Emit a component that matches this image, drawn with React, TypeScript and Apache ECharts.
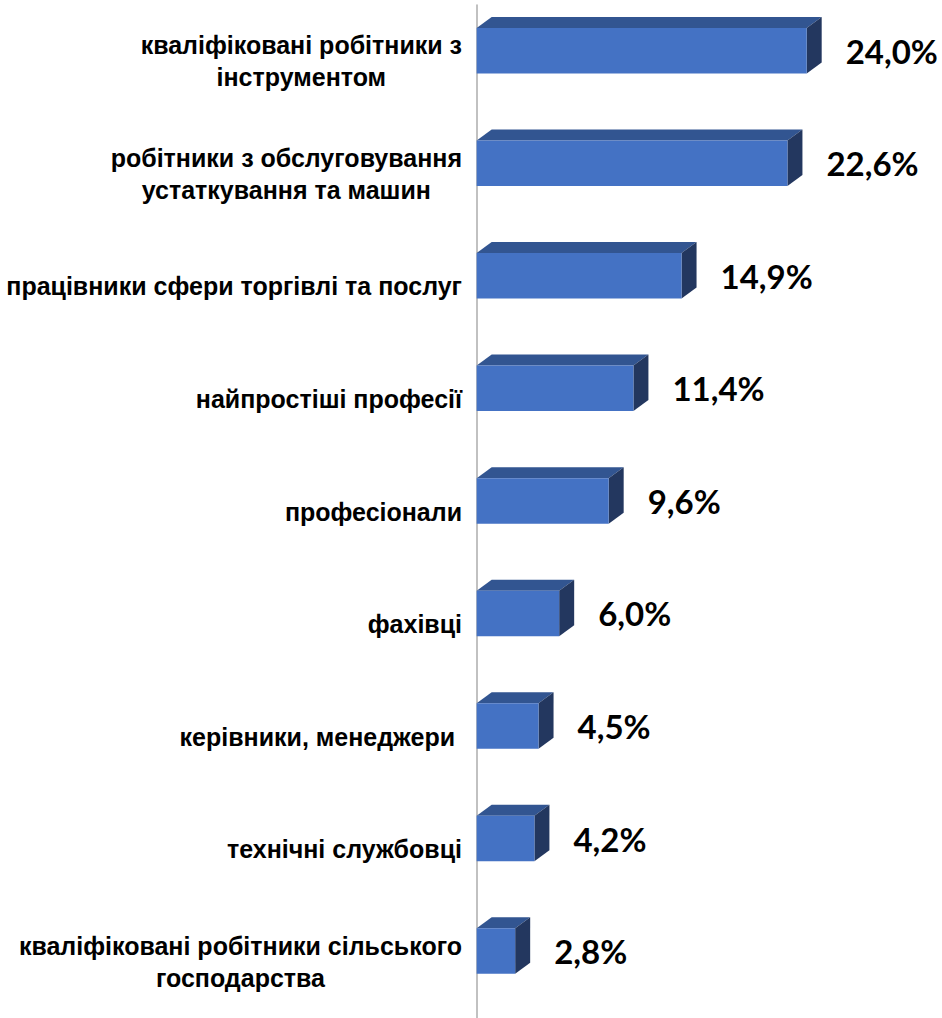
import React, { useEffect, useRef } from "react";
import * as echarts from "echarts";

const categories: string[] = [
  "кваліфіковані робітники з\nінструментом",
  "робітники з обслуговування\nустаткування та машин",
  "працівники сфери торгівлі та послуг",
  "найпростіші професії",
  "професіонали",
  "фахівці",
  "керівники, менеджери ",
  "технічні службовці",
  "кваліфіковані робітники сільського\nгосподарства",
];

const values: number[] = [24.0, 22.6, 14.9, 11.4, 9.6, 6.0, 4.5, 4.2, 2.8];

const FRONT = "#4472C4";
const TOP = "#325591";
const SIDE = "#23375F";

export default function App() {
  const ref = useRef<HTMLDivElement>(null);

  useEffect(() => {
    if (!ref.current) return;
    const chart = echarts.init(ref.current, undefined, { renderer: "svg" });
    const depthX = 15;
    const depthY = 11;
    const barH = 45.5;
    const shiftUp = 10.6;
    const labelGap = 39;

    chart.setOption({
      animation: false,
      backgroundColor: "#ffffff",
      grid: { left: 468, right: 0, top: 5, height: 1015 },
      xAxis: {
        type: "value",
        min: -0.63,
        max: 33.84,
        show: false,
        splitLine: { show: false },
      },
      yAxis: {
        type: "category",
        data: categories,
        inverse: true,
        axisLine: { show: true, lineStyle: { color: "#ADADAD", width: 1.5 } },
        axisTick: { show: false },
        splitLine: { show: false },
        axisLabel: {
          margin: 6,
          formatter: (v: string) =>
            v
              .split("\n")
              .map((l) => `{c|${l}}`)
              .join("\n"),
          rich: {
            c: {
              align: "center",
              fontSize: 25,
              fontWeight: "bold",
              fontFamily: "Liberation Sans, Arial, sans-serif",
              lineHeight: 32,
              color: "#000000",
            },
          },
        },
      },
      series: [
        {
          type: "custom",
          encode: { x: 0, y: 1 },
          data: values.map((v, i) => [v, i]),
          renderItem: (params: any, api: any) => {
            const v = api.value(0);
            const idx = api.value(1);
            const p0 = api.coord([0, idx]);
            const p1 = api.coord([v, idx]);
            const x0 = p0[0];
            const x1 = p1[0];
            const yc = p0[1] - shiftUp;
            const top = yc - barH / 2;
            const bottom = yc + barH / 2;
            const text = v.toFixed(1).replace(".", ",") + "%";
            return {
              type: "group",
              children: [
                {
                  type: "polygon",
                  shape: {
                    points: [
                      [x0, top],
                      [x0 + depthX, top - depthY],
                      [x1 + depthX, top - depthY],
                      [x1, top],
                    ],
                  },
                  style: { fill: TOP },
                },
                {
                  type: "polygon",
                  shape: {
                    points: [
                      [x1, top],
                      [x1 + depthX, top - depthY],
                      [x1 + depthX, bottom - depthY],
                      [x1, bottom],
                    ],
                  },
                  style: { fill: SIDE },
                },
                {
                  type: "rect",
                  shape: { x: x0, y: top, width: x1 - x0, height: barH },
                  style: { fill: FRONT },
                },
                {
                  type: "text",
                  x: x1 + labelGap,
                  y: yc,
                  style: {
                    text,
                    fill: "#000000",
                    fontSize: 33,
                    fontWeight: "bold",
                    fontFamily: "Lato, 'Open Sans', sans-serif",
                    align: "left",
                    verticalAlign: "middle",
                  },
                },
              ],
            };
          },
        },
      ],
    });

    return () => {
      chart.dispose();
    };
  }, []);

  return (
    <div
      ref={ref}
      style={{ position: "fixed", left: 0, top: 0, width: 942, height: 1018 }}
    />
  );
}
